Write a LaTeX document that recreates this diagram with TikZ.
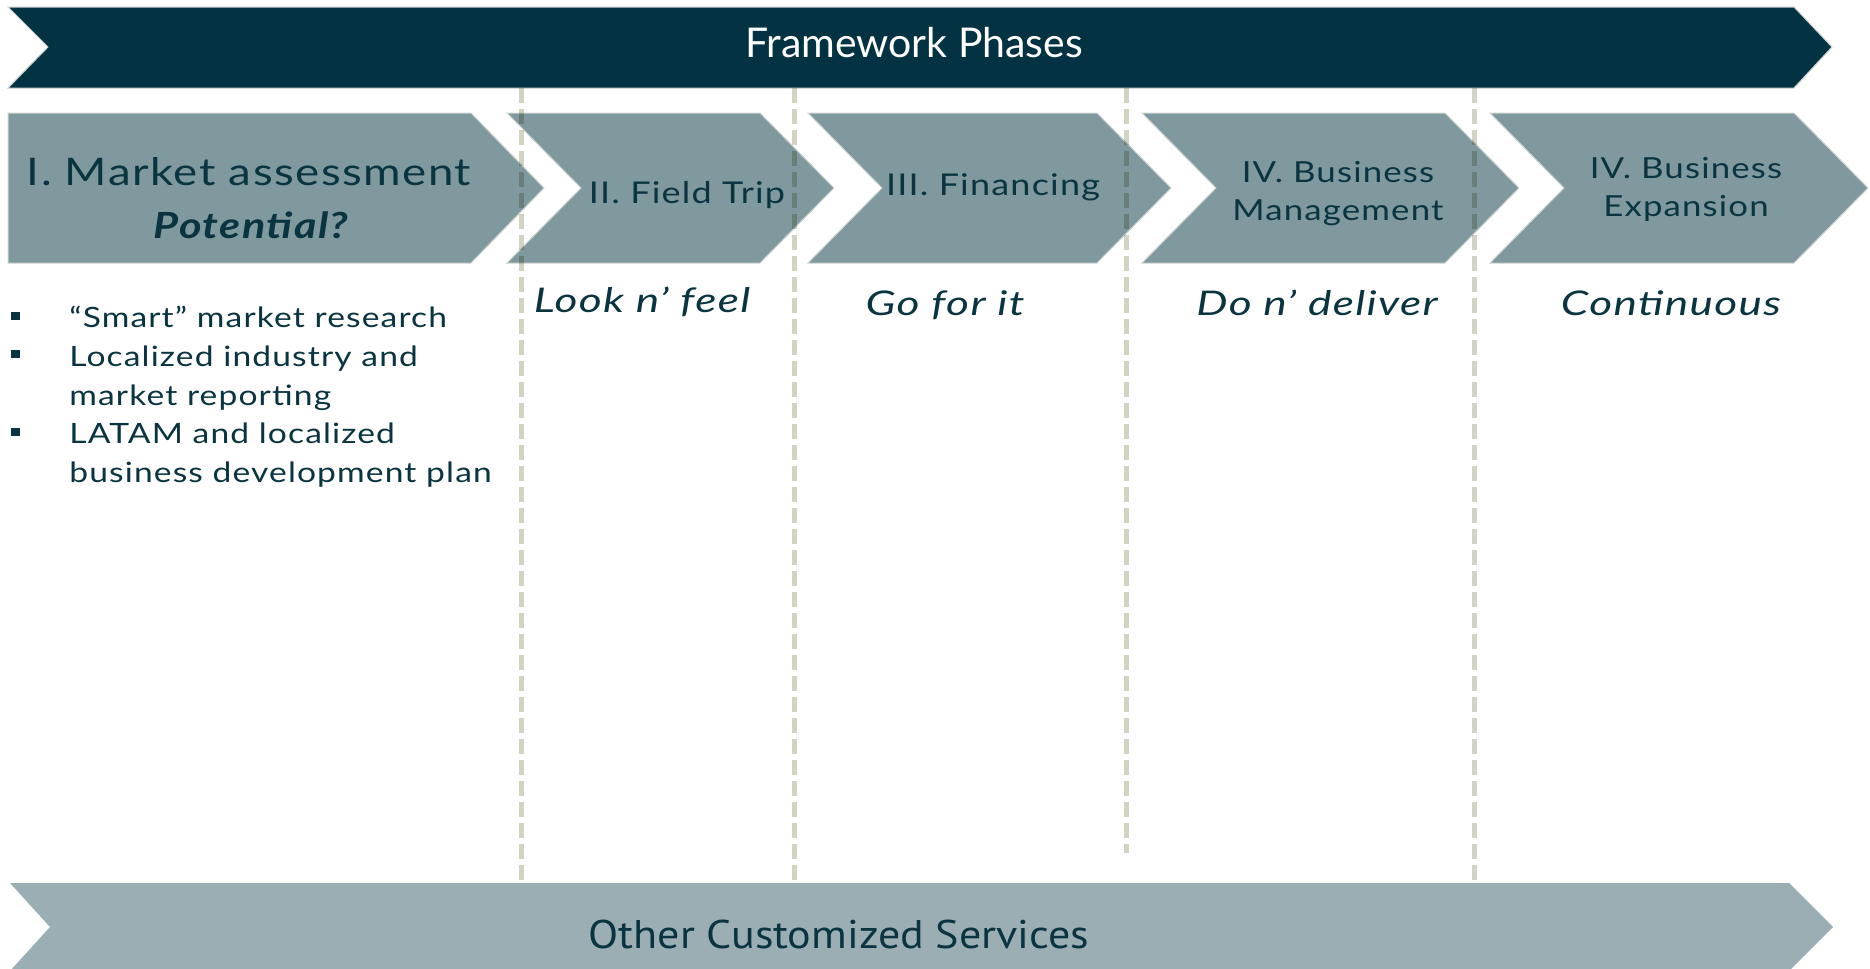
\documentclass[tikz,border=0pt]{standalone}
\usepackage{fontspec}
\setmainfont{Lato}[FakeStretch=1.2, LetterSpace=4]
\newfontfamily\titlefont{Lato}
\newfontfamily\mottofont{Lato}[FakeStretch=1.3, LetterSpace=4]
\newfontfamily\narrowfont{PT Sans}[FakeStretch=1.1]
\usepackage{tikz}
\usetikzlibrary{positioning}
\definecolor{deepteal}{RGB}{3,51,66}
\definecolor{inkteal}{RGB}{10,52,64}
\definecolor{phasegray}{RGB}{127,153,158}
\definecolor{servgray}{RGB}{154,174,180}
\definecolor{dashbeige}{RGB}{211,211,196}
\definecolor{rimgray}{RGB}{205,210,208}
\tikzstyle{banner} = [fill=deepteal, draw=rimgray, line width=0.5pt]
\tikzstyle{phase} = [fill=phasegray, draw=rimgray, line width=0.5pt]
\tikzstyle{services} = [fill=servgray]
\tikzstyle{divider} = [draw=dashbeige, line width=2.5pt, dash pattern=on 7.5pt off 3pt]
\tikzstyle{phasetext} = [text=inkteal, font=\fontsize{14.5}{19}\selectfont, align=center, inner sep=0pt, anchor=base]
\tikzstyle{motto} = [text=inkteal, font=\mottofont\itshape\fontsize{17}{21}\selectfont, inner sep=0pt, anchor=base]
\tikzstyle{item} = [text=inkteal, font=\fontsize{14}{18}\selectfont, inner sep=0pt, anchor=base west]
\tikzstyle{bullet} = [fill=inkteal, minimum width=4.5pt, minimum height=4pt, inner sep=0pt]

\begin{document}
\begin{tikzpicture}[x=0.5pt, y=-0.5pt]
    \useasboundingbox (0,0) rectangle (1870,969);
    % banners
    \draw [banner] (8,7) -- (1794,7) -- (1832,47) -- (1794,88) -- (8,88) -- (48,47) -- cycle;
    \fill [services] (10,883) -- (1789,883) -- (1833,927) -- (1789,971) -- (10,971) -- (50,927) -- cycle;
    % phase chevrons
    \draw [phase] (8,113) -- (471,113) -- (544,188) -- (471,263) -- (8,263) -- cycle;
    \foreach \l/\r in {507/760, 808/1097, 1142/1445, 1490/1794}
        \draw [phase] (\l,113) -- (\r,113) -- (\r+74,188) -- (\r,263) -- (\l,263) -- (\l+74,188) -- cycle;
    % phase borders
    \begin{scope}[blend mode=multiply]
        \foreach \x/\e in {521.5/883, 794/882, 1126/853, 1474.5/883}
            \draw [divider] (\x,88) -- (\x,\e);
    \end{scope}

    \node [text=white, font=\titlefont\fontsize{20.5}{24}\selectfont, inner sep=0pt, anchor=base] (title) at (914,57) {Framework Phases};
    \node [phasetext, font=\fontsize{19}{23}\selectfont] (market) at (249,185) {I. Market assessment};
    \node [phasetext, font=\bfseries\itshape\fontsize{18}{21}\selectfont] (potential) at (251,238) {Potential?};
    \node [phasetext, font=\fontsize{15}{19}\selectfont] (field) at (687,203) {II. Field Trip};
    \node [phasetext, font=\fontsize{15}{19}\selectfont] (financing) at (993,195) {III. Financing};
    \node [phasetext] (management) at (1338,220) {IV. Business\\Management};
    \node [phasetext] (expansion) at (1686,216) {IV. Business\\Expansion};

    \node [motto] (look) at (642,312) {Look n’ feel};
    \node [motto] (go) at (945,315) {Go for it};
    \node [motto] (deliver) at (1317,315) {Do n’ deliver};
    \node [motto] (continuous) at (1671,315) {Continuous};

    \node [bullet] (b1) at (15.5,316) {};
    \node [bullet] (b2) at (15.5,354) {};
    \node [bullet] (b3) at (15.5,432) {};
    \node [item] (research) at (69,327) {“Smart” market research};
    \node [item] (industry) at (69,366) {Localized industry and};
    \node [item] (reporting) at (69,405) {market reporting};
    \node [item] (latam) at (69,443) {LATAM and localized};
    \node [item] (plan) at (69,482) {business development plan};

    \node [text=inkteal, font=\narrowfont\fontsize{20}{24}\selectfont, inner sep=0pt, anchor=base] (other) at (839,948) {Other Customized Services};
\end{tikzpicture}
\end{document}
